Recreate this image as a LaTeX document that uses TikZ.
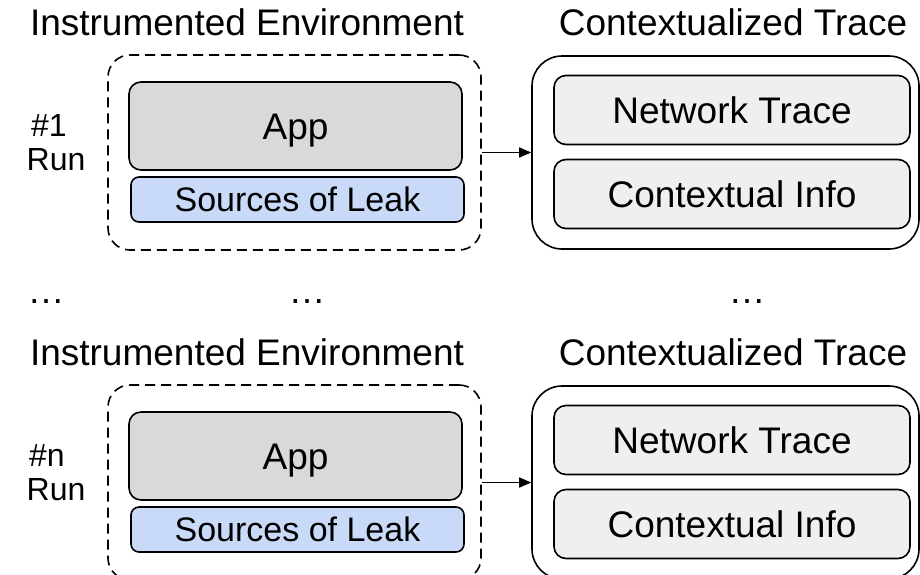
\documentclass[tikz,border=0pt]{standalone}
\usepackage{fontspec}
\setmainfont{Liberation Sans}
\usetikzlibrary{arrows.meta}

\definecolor{appgray}{HTML}{D9D9D9}
\definecolor{leakblue}{HTML}{C9DAF8}
\definecolor{infogray}{HTML}{EFEFEF}

\begin{document}
\begin{tikzpicture}[x=1pt,y=-1pt,
  box/.style={draw,line width=1.6pt,inner sep=0pt,text height=26pt,text depth=0pt,
    font=\fontsize{37}{44}\selectfont},
  envbox/.style={draw,line width=1.6pt,dash pattern=on 10pt off 6pt,rounded corners=22pt,
    minimum width=373pt,minimum height=195pt},
  tracebox/.style={draw,line width=1.6pt,rounded corners=30pt,
    minimum width=387pt,minimum height=193pt},
  appbox/.style={box,fill=appgray,rounded corners=12pt,minimum width=333pt,minimum height=88pt},
  leakbox/.style={box,fill=leakblue,rounded corners=8pt,minimum width=333pt,minimum height=45pt,
    text height=24pt,font=\fontsize{34}{40}\selectfont},
  infobox/.style={box,fill=infogray,rounded corners=12pt,minimum width=356pt,minimum height=69pt},
  title/.style={anchor=base,font=\fontsize{37}{44}\selectfont},
  runlabel/.style={anchor=base,font=\fontsize{32}{38}\selectfont},
  flow/.style={line width=1.6pt,-{Triangle[length=12pt,width=10pt]}}]

  \clip (0,0) rectangle (920,574);

  % first run
  \node[title] (envtitle1) at (247,35) {Instrumented Environment};
  \node[title] (tracetitle1) at (733,35) {Contextualized Trace};
  \node[runlabel] (num1) at (49,136) {\#1};
  \node[runlabel] (run1) at (56,170) {Run};

  \node[envbox] (env1) at (294.5,152.5) {};
  \node[appbox] (app1) at (295.5,126) {App};
  \node[leakbox] (leak1) at (297.5,199.5) {Sources of Leak};

  \node[tracebox] (trace1) at (725.5,152.5) {};
  \node[infobox] (net1) at (732,110) {Network Trace};
  \node[infobox] (ctx1) at (732,194) {Contextual Info};

  \draw[flow] (env1.east) -- (trace1.west);

  % dots between the runs
  \node[title] (dotsrun) at (46,303) {…};
  \node[title] (dotsenv) at (307,303) {…};
  \node[title] (dotstrace) at (747,303) {…};

  % last run
  \begin{scope}[shift={(0,330)}]
    \node[title] (envtitlen) at (247,35) {Instrumented Environment};
    \node[title] (tracetitlen) at (733,35) {Contextualized Trace};
    \node[runlabel] (numn) at (47,136) {\#n};
    \node[runlabel] (runn) at (56,170) {Run};

    \node[envbox] (envn) at (294.5,152.5) {};
    \node[appbox] (appn) at (295.5,126) {App};
    \node[leakbox] (leakn) at (297.5,199.5) {Sources of Leak};

    \node[tracebox] (tracen) at (725.5,152.5) {};
    \node[infobox] (netn) at (732,110) {Network Trace};
    \node[infobox] (ctxn) at (732,194) {Contextual Info};

    \draw[flow] (envn.east) -- (tracen.west);
  \end{scope}
\end{tikzpicture}
\end{document}
